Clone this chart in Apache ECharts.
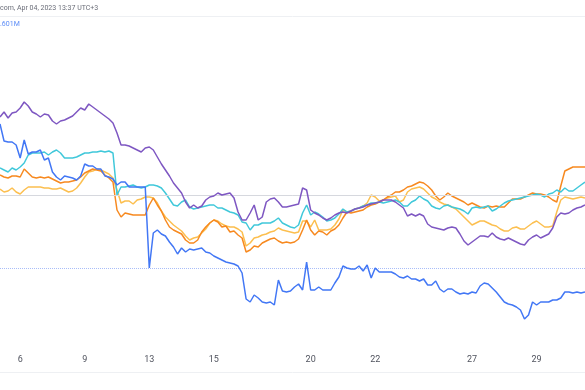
<!DOCTYPE html>
<html>
<head>
<meta charset="utf-8">
<style>
html,body{margin:0;padding:0;background:#fff;}
#chart{width:585px;height:390px;}
</style>
<script src="https://cdn.jsdelivr.net/npm/echarts@6/dist/echarts.min.js"></script>
</head>
<body>
<div id="chart"></div>
<script>
// Trading days shown (March 2023) and number of samples per day
const dayList = [3,6,7,8,9,10,13,14,15,16,17,20,21,22,23,24,27,28,29,30];
const pointsPerDay = [5,8,4,4,8,8,8,8,8,8,8,8,8,8,8,8,8,8,8,5];
const tickDays = [6,9,13,15,20,22,27,29];

const headerText = 'com, Apr 04, 2023 13:37 UTC+3';
const volumeText = '.601M';

// % change series
const purple = [
 7.8, 8.3, 7.7, 8.2, 8.3, 8.7, 9.3, 8.9, 8.3, 8.1,
 7.8, 8.1, 8.0, 7.4, 7.1, 7.4, 7.5, 7.7, 7.9, 8.3,
 8.7, 8.5, 9.1, 8.8, 8.5, 8.2, 7.9, 7.6, 7.2, 6.2,
 5.0, 5.0, 4.9, 4.7, 4.5, 4.3, 4.7, 4.8, 4.5, 3.8,
 3.1, 2.5, 1.9, 1.2, 0.7, 0.2, -0.7, -1.3, -1.0, -1.3,
 -1.1, -0.5, -0.2, -0.1, 0.2, 0.0, 0.1, 0.2, -0.3, -1.7,
 -2.5, -2.5, -1.8, -1.0, -2.5, -2.2, -0.7, -0.4, -0.3, -0.7,
 -1.2, -1.2, -1.1, -1.0, -0.9, 0.7, 0.5, -1.5, -1.8, -2.0,
 -2.3, -2.5, -2.3, -2.0, -1.8, -1.7, -1.8, -1.6, -1.4, -1.3,
 -1.2, -1.0, -0.9, -0.8, -0.7, -0.5, -0.5, -0.5, -0.7, -1.0,
 -1.3, -2.1, -1.9, -2.1, -1.9, -2.1, -2.9, -3.2, -3.3, -3.4,
 -3.5, -3.3, -3.2, -3.3, -3.9, -4.6, -5.0, -4.7, -4.4, -4.1,
 -4.1, -4.2, -3.8, -4.2, -4.4, -4.5, -4.3, -4.5, -4.7, -4.9,
 -5.0, -4.5, -4.2, -4.0, -4.3, -4.1, -3.9, -3.3, -2.2, -1.8,
 -1.9, -1.8, -1.5, -1.3, -1.2, -1.0
];
const blue = [
 7.1, 5.4, 5.3, 5.3, 5.0, 3.7, 5.5, 4.1, 4.3, 4.3,
 4.5, 3.5, 3.7, 2.3, 1.8, 1.5, 1.9, 1.8, 1.7, 1.5,
 1.9, 3.1, 2.9, 2.9, 2.6, 2.6, 1.9, 1.8, 1.6, 1.0,
 1.3, 1.3, 0.8, 0.8, 0.8, 0.8, 0.8, -7.3, -3.8, -3.5,
 -3.9, -4.1, -4.7, -5.2, -5.9, -5.3, -5.7, -5.4, -5.5, -5.4,
 -5.3, -5.7, -5.8, -6.1, -6.3, -6.5, -6.7, -6.8, -6.9, -7.1,
 -7.8, -10.4, -10.7, -10.0, -10.3, -10.7, -10.8, -10.7, -11.0, -8.5,
 -9.6, -9.7, -9.6, -9.2, -8.9, -9.5, -6.7, -9.5, -9.5, -9.2,
 -9.5, -9.5, -9.5, -8.8, -8.2, -7.1, -7.3, -7.4, -7.4, -7.1,
 -7.6, -7.0, -8.3, -7.3, -7.7, -7.7, -7.7, -7.7, -7.9, -8.2,
 -8.3, -8.1, -8.4, -8.4, -8.6, -8.4, -9.0, -9.0, -8.6, -9.4,
 -9.7, -9.4, -9.4, -9.7, -9.9, -9.8, -9.9, -9.7, -9.8, -9.1,
 -8.8, -8.9, -9.3, -9.7, -10.2, -10.7, -10.9, -11.0, -11.2, -11.5,
 -12.4, -12.0, -10.7, -11.0, -10.7, -10.7, -10.7, -10.5, -10.5, -10.3,
 -9.7, -9.7, -9.8, -9.7, -9.8, -9.7
];
const cyan = [
 2.7, 2.5, 2.3, 2.7, 2.5, 2.8, 3.2, 4.0, 4.2, 4.2,
 4.2, 4.3, 4.0, 4.3, 4.5, 4.2, 3.7, 3.7, 3.7, 3.8,
 4.0, 4.2, 4.2, 4.3, 4.3, 4.4, 4.3, 4.4, 4.2, 0.0,
 0.8, 0.8, 0.9, 1.0, 0.8, 0.7, 0.8, 1.0, 1.0, 0.9,
 0.7, 0.2, -0.4, -1.0, -1.1, -0.7, -0.5, -1.2, -1.4, -1.3,
 -1.2, -1.1, -1.0, -1.0, -1.3, -1.3, -1.5, -1.7, -1.8, -2.0,
 -2.7, -2.8, -3.5, -3.0, -3.0, -2.8, -2.8, -2.8, -2.6, -2.3,
 -2.8, -3.0, -3.2, -3.3, -3.0, -1.8, -1.0, -2.0, -1.7, -1.9,
 -2.2, -2.6, -2.5, -2.3, -1.9, -1.4, -1.7, -1.6, -1.4, -1.3,
 -1.1, -1.0, -0.8, -0.8, -0.7, -0.8, -0.7, -0.6, -0.5, -0.7,
 -1.1, -1.1, -0.7, -0.5, -0.1, -0.4, -0.6, -1.1, -1.3, -1.4,
 -1.1, -1.0, -1.2, -1.3, -1.4, -1.6, -1.9, -1.3, -1.2, -1.3,
 -1.2, -1.1, -1.6, -1.4, -1.1, -0.8, -0.6, -0.5, -0.4, -0.3,
 -0.2, -0.1, 0.0, 0.1, 0.0, -0.2, 0.1, 0.2, 0.5, 0.3,
 0.7, 0.4, 0.4, 0.7, 1.0, 1.3
];
const orange = [
 2.0, 1.8, 1.7, 1.9, 1.9, 1.8, 2.6, 2.2, 1.8, 1.7,
 1.8, 1.7, 1.8, 1.6, 1.4, 1.2, 1.3, 1.3, 1.4, 1.5,
 1.8, 2.2, 2.4, 2.6, 2.5, 2.4, 2.0, 1.7, 1.3, -1.5,
 -2.2, -1.8, -1.9, -2.0, -2.0, -2.0, -2.0, -1.0, -0.3, -1.0,
 -1.6, -2.5, -3.2, -3.5, -3.7, -3.9, -4.5, -4.8, -4.8, -4.5,
 -3.7, -3.2, -2.8, -2.5, -2.7, -3.2, -3.1, -3.7, -3.6, -4.0,
 -4.3, -5.7, -5.5, -5.1, -5.2, -4.8, -4.6, -4.4, -4.3, -4.6,
 -4.8, -4.7, -4.8, -4.7, -4.4, -3.5, -2.5, -3.5, -4.0, -3.6,
 -3.7, -4.0, -3.6, -3.4, -3.0, -2.3, -1.7, -1.8, -1.7, -1.6,
 -1.5, -1.2, -1.0, -0.9, -0.7, -0.5, -0.2, 0.0, 0.3, 0.3,
 0.5, 0.8, 0.9, 1.1, 1.3, 1.2, 0.9, 0.5, -0.1, -0.5,
 -0.2, 0.2, -0.1, -0.3, -0.5, -0.7, -1.0, -0.8, -1.0, -1.2,
 -1.3, -1.1, -1.2, -1.1, -1.2, -1.2, -0.8, -0.4, -0.4, -0.4,
 -0.2, 0.0, 0.2, 0.1, 0.1, 0.0, -0.2, -0.5, -0.7, 0.9,
 2.4, 2.6, 2.8, 2.8, 2.8, 2.8
];
const yellow = [
 0.6, 0.3, 0.4, 0.7, 0.3, 0.1, 0.5, 0.8, 0.8, 0.8,
 0.8, 0.7, 0.7, 0.6, 0.6, 0.7, 0.5, 0.3, 0.4, 0.7,
 1.2, 1.8, 2.3, 2.4, 2.6, 2.5, 2.3, 2.1, 1.7, 0.5,
 -0.8, -0.6, -0.6, -0.9, -0.5, -0.4, -0.2, -0.2, -0.3, -0.8,
 -1.6, -2.2, -2.6, -3.0, -3.3, -3.6, -4.1, -4.5, -4.3, -4.2,
 -3.8, -3.4, -2.8, -2.5, -2.6, -2.9, -3.1, -3.2, -3.2, -3.4,
 -3.7, -5.1, -4.8, -4.3, -4.2, -4.0, -3.9, -3.7, -3.6, -3.3,
 -3.5, -3.6, -3.7, -3.8, -3.7, -2.6, -2.6, -3.2, -2.5, -3.5,
 -3.5, -3.5, -3.4, -3.0, -2.4, -1.5, -1.7, -1.6, -1.4, -1.3,
 -1.1, -0.8, 0.0, -0.2, -0.6, -0.5, -0.3, -0.2, -0.1, -0.7,
 -0.5, 0.3, 0.6, 0.7, 0.8, 0.6, 0.2, -0.2, -0.4, -0.7,
 -0.9, -1.0, -1.2, -1.4, -1.8, -2.2, -2.6, -3.0, -2.8, -2.6,
 -2.6, -2.8, -3.0, -3.1, -3.4, -3.6, -3.6, -3.3, -3.2, -3.4,
 -3.4, -3.1, -2.8, -2.6, -2.9, -3.2, -3.2, -3.1, -1.7, -0.5,
 -0.2, -0.3, -0.4, -0.3, -0.2, -0.3
];
const baseLine = 0;
const priceLine = -7.3;

// build categories
const categories = [];
const labelIdx = new Set();
dayList.forEach((d, j) => {
  for (let k = 0; k < pointsPerDay[j]; k++) {
    if (k === 0 && tickDays.includes(d)) labelIdx.add(categories.length);
    categories.push('Mar ' + d + ' ' + k);
  }
});

const chart = echarts.init(document.getElementById('chart'), null, {renderer: 'canvas'});
const mk = (name, data, color, z, extra) => Object.assign({
  name, type: 'line', data, showSymbol: false, symbol: 'none', z,
  lineStyle: {color, width: 1.5}, itemStyle: {color}, animation: false
}, extra || {});

chart.setOption({
  animation: false,
  grid: {left: 0, right: 0, top: 16, bottom: 42},
  xAxis: {
    type: 'category', data: categories, boundaryGap: false,
    axisLine: {show: true, lineStyle: {color: '#e0e3eb', width: 1}},
    axisTick: {show: false},
    axisLabel: {
      interval: (i) => labelIdx.has(i),
      formatter: (v) => v.split(' ')[1],
      color: '#50535e', fontSize: 9, margin: 7,
      fontFamily: 'Roboto, sans-serif'
    },
    splitLine: {show: false}
  },
  yAxis: {type: 'value', min: -15.3, max: 17.9, show: false},
  graphic: [
    {type: 'text', left: 0, top: 5, style: {text: headerText, fill: '#6a6d78', fontSize: 7, fontFamily: 'Roboto, sans-serif'}},
    {type: 'line', shape: {x1: 0, y1: 16.5, x2: 585, y2: 16.5}, style: {stroke: '#eef0f3', lineWidth: 1}},
    {type: 'text', left: 0, top: 21, style: {text: volumeText, fill: '#5b8cf7', fontSize: 7, fontFamily: 'Roboto, sans-serif'}},
    {type: 'line', shape: {x1: 0, y1: 372.5, x2: 585, y2: 372.5}, style: {stroke: '#eef0f3', lineWidth: 1}}
  ],
  series: [
    mk('yellow', yellow, '#fcbf4f', 2, {
      markLine: {silent: true, symbol: 'none', label: {show: false},
        data: [{yAxis: baseLine, lineStyle: {color: '#d6d8de', type: 'solid', width: 1}},
               {yAxis: priceLine, lineStyle: {color: '#a9bdf8', type: 'dotted', width: 1}}]}
    }),
    mk('orange', orange, '#f7891f', 3),
    mk('cyan', cyan, '#40c8da', 4),
    mk('purple', purple, '#7e57c2', 5),
    mk('blue', blue, '#4277f5', 6)
  ]
});
</script>
</body>
</html>
